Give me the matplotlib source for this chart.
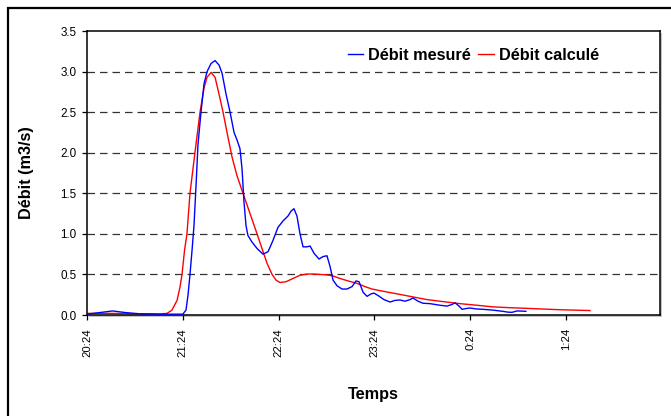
import matplotlib
matplotlib.use("Agg")
import matplotlib.pyplot as plt
import matplotlib.patches as patches

plt.rcParams['font.family'] = ['Liberation Sans', 'DejaVu Sans']

# temps en minutes depuis 20:24
t_mes = [0, 8, 16, 24, 33, 46, 60, 62, 63.3, 64.5, 65.8, 67, 68.3, 69.5, 71.4,
         73.3, 75.2, 77.7, 80.2, 82.7, 84.6, 87.1, 89.6, 92.1, 93.9, 95.8, 97.1,
         98.3, 99.6, 100.8, 103.3, 106.5, 110.2, 113.4, 116.5, 119.6, 122.8,
         125.9, 127.8, 129.6, 131.5, 133.4, 135.3, 137.8, 139.7, 142.2, 145.3,
         147.8, 150.3, 152.2, 154.1, 156.6, 159.7, 162.8, 166, 168.5, 170.4,
         172.9, 175.4, 177.9, 179.7, 182.3, 186, 189.8, 192.9, 196, 199.2, 202.3,
         204.2, 207.3, 210.4, 214.8, 221.1, 225.5, 228.6, 230.5, 233, 234.9,
         237.4, 239.9, 243.6, 248, 254.3, 260.5, 263.7, 266.2, 269.3, 272.4, 274.9]
q_mes = [0.01, 0.03, 0.05, 0.03, 0.015, 0.01, 0.01, 0.06, 0.25, 0.5, 0.8, 1.1,
         1.6, 2.1, 2.5, 2.85, 3.0, 3.1, 3.135, 3.08, 2.98, 2.72, 2.5, 2.25, 2.16,
         2.05, 1.8, 1.4, 1.1, 0.98, 0.9, 0.82, 0.75, 0.78, 0.92, 1.08, 1.16, 1.22,
         1.28, 1.31, 1.22, 1.0, 0.84, 0.84, 0.85, 0.76, 0.69, 0.72, 0.73, 0.6,
         0.43, 0.36, 0.32, 0.32, 0.35, 0.42, 0.41, 0.28, 0.23, 0.26, 0.27, 0.24,
         0.19, 0.16, 0.18, 0.185, 0.17, 0.19, 0.21, 0.17, 0.145, 0.14, 0.12, 0.11,
         0.13, 0.15, 0.11, 0.07, 0.08, 0.086, 0.075, 0.07, 0.06, 0.045, 0.035,
         0.033, 0.05, 0.048, 0.045]

t_cal = [0, 14.4, 33.2, 45.7, 50.1, 53.2, 56.4, 58.3, 59.5, 61.1, 62.6, 64.5,
         67.6, 70.8, 73.3, 75.2, 77.7, 80.2, 82.7, 85.2, 87.7, 90.8, 93.9, 97.7,
         102.1, 106.5, 109.6, 112.7, 115.9, 118.4, 120.9, 124.6, 129, 133.4,
         137.8, 141.5, 145.9, 149.7, 153.4, 158.5, 163.5, 169.1, 174.1, 178.5,
         183.5, 191.6, 202.3, 212.9, 223, 233.6, 244.3, 254.3, 264.9, 274.3,
         283.7, 296.2, 305.6, 315]
q_cal = [0.02, 0.02, 0.015, 0.012, 0.02, 0.06, 0.18, 0.35, 0.5, 0.8, 1.0, 1.5,
         2.0, 2.5, 2.8, 2.93, 2.99, 2.93, 2.72, 2.5, 2.25, 1.95, 1.72, 1.5, 1.25,
         1.0, 0.82, 0.64, 0.5, 0.43, 0.40, 0.41, 0.45, 0.49, 0.505, 0.505, 0.50,
         0.495, 0.485, 0.45, 0.42, 0.39, 0.35, 0.32, 0.30, 0.27, 0.23, 0.19,
         0.165, 0.14, 0.12, 0.10, 0.09, 0.083, 0.075, 0.065, 0.06, 0.055]

x_ticks = [0, 60, 120, 180, 240, 300]
x_labels = ['20:24', '21:24', '22:24', '23:24', '0:24', '1:24']
y_ticks = [0, 0.5, 1.0, 1.5, 2.0, 2.5, 3.0, 3.5]

W, H = 671, 416
fig = plt.figure(figsize=(W / 100, H / 100), dpi=100)

# cadre exterieur
fig.patches.append(patches.Rectangle((8 / W, -0.2), 1.2, (H - 8) / H + 0.2,
                                     transform=fig.transFigure, fill=False,
                                     edgecolor='black', lw=1.6))

ax_l, ax_r, ax_t, ax_b = 87, 660, 31, 315
pos = [ax_l / W, 1 - ax_b / H, (ax_r - ax_l) / W, (ax_b - ax_t) / H]

# ombre grise sous la zone de tracé
fig.patches.append(patches.Rectangle((pos[0] + 2 / W, pos[1] - 2 / H), pos[2], pos[3],
                                     transform=fig.transFigure, facecolor='#c4c4c4',
                                     edgecolor='none', zorder=-5))

ax = fig.add_axes(pos)
ax.set_facecolor('white')

for yv in y_ticks[1:-1]:
    ax.axhline(yv, color='#333333', lw=0.9, dashes=(6, 4), zorder=1)

ax.plot(t_mes, q_mes, color='#0000ff', lw=1.0, label='Débit mesuré', zorder=3)
ax.plot(t_cal, q_cal, color='#ff0000', lw=1.0, label='Débit calculé', zorder=2)

ax.set_xlim(0, (ax_r - ax_l) * 60 / 95.8)
ax.set_ylim(0, 3.5)
ax.set_xticks(x_ticks)
ax.set_xticklabels(x_labels, rotation=90, fontsize=8.2)
ax.set_yticks(y_ticks)
ax.set_yticklabels(['%.1f' % v for v in y_ticks], fontsize=8.4)
ax.tick_params(axis='both', direction='out', length=3.5, width=0.9, color='black')
ax.tick_params(axis='x', pad=6)
ax.tick_params(axis='y', pad=4)
for s in ax.spines.values():
    s.set_color('black')
    s.set_linewidth(1.1)

fig.text(27 / W, 1 - 173 / H, 'Débit (m3/s)', rotation=90, ha='center', va='center',
         fontsize=11.7, fontweight='bold')
fig.text(373 / W, 1 - 395 / H, 'Temps', ha='center', va='center',
         fontsize=11.7, fontweight='bold')

ax.legend(loc='center left', bbox_to_anchor=(348 / W, 1 - 55 / H),
          bbox_transform=fig.transFigure, ncol=2, frameon=False,
          prop={'size': 11.7, 'weight': 'bold'}, handlelength=0.95,
          handletextpad=0.3, columnspacing=0.45, borderpad=0, borderaxespad=0)

fig.savefig('out.png', dpi=100)
